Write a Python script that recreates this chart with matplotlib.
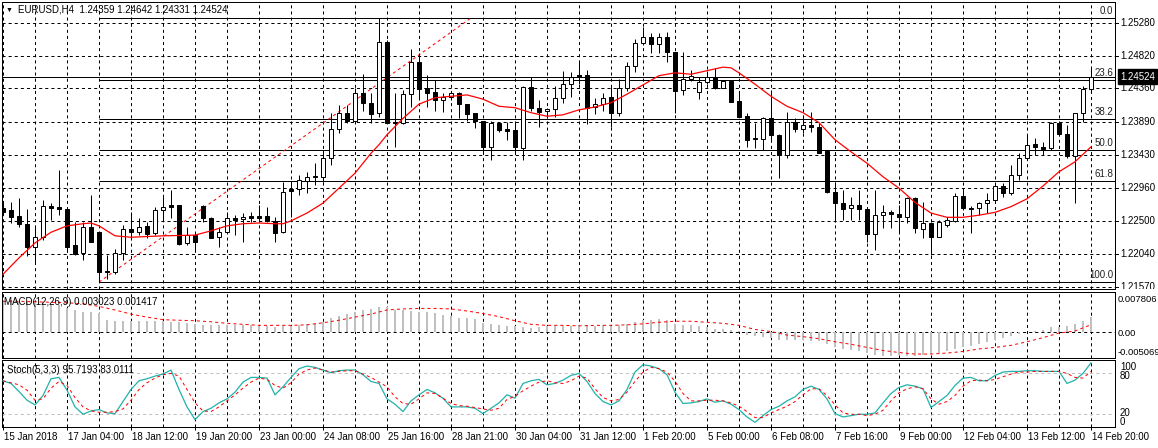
import matplotlib
matplotlib.use("Agg")
import matplotlib.pyplot as plt
import numpy as np

plt.rcParams['font.family'] = ['Liberation Sans', 'DejaVu Sans']
plt.rcParams['lines.scale_dashes'] = False

# ---- data (EURUSD H4) ----
opens = [1.2268, 1.2265, 1.2257, 1.2245, 1.2213, 1.2228, 1.2271, 1.2269, 1.2266, 1.2216,
         1.2205, 1.2241, 1.2235, 1.2179, 1.2178, 1.2205, 1.2238, 1.2235, 1.2243, 1.2233,
         1.2265, 1.2272, 1.2272, 1.2219, 1.2230, 1.2271, 1.2254, 1.2227, 1.2234, 1.2254,
         1.2252, 1.2257, 1.2257, 1.2257, 1.2250, 1.2234, 1.2295, 1.2295, 1.2306, 1.2313,
         1.2311, 1.2338, 1.2379, 1.2401, 1.2390, 1.2429, 1.2415, 1.2401, 1.2501, 1.2389,
         1.2387, 1.2428, 1.2473, 1.2436, 1.2431, 1.2420, 1.2424, 1.2429, 1.2414, 1.2401,
         1.2391, 1.2354, 1.2387, 1.2379, 1.2377, 1.2352, 1.2438, 1.2408, 1.2404, 1.2407,
         1.2422, 1.2442, 1.2455, 1.2455, 1.2410, 1.2414, 1.2424, 1.2401, 1.2436, 1.2467,
         1.2500, 1.2508, 1.2498, 1.2508, 1.2487, 1.2434, 1.2449, 1.2431, 1.2445, 1.2452,
         1.2436, 1.2446, 1.2418, 1.2397, 1.2366, 1.2365, 1.2394, 1.2370, 1.2342, 1.2389,
         1.2379, 1.2384, 1.2382, 1.2348, 1.2290, 1.2275, 1.2268, 1.2273, 1.2266, 1.2231,
         1.2258, 1.2262, 1.2259, 1.2255, 1.2282, 1.2238, 1.2247, 1.2228, 1.2244, 1.2250,
         1.2285, 1.2268, 1.2268, 1.2275, 1.2280, 1.2299, 1.2289, 1.2314, 1.2338, 1.2358,
         1.2354, 1.2352, 1.2387, 1.2372, 1.2341, 1.2401, 1.24359]
highs = [1.2276, 1.2276, 1.2282, 1.2266, 1.2241, 1.2279, 1.2275, 1.2321, 1.2266, 1.2248,
         1.2248, 1.2286, 1.2235, 1.2202, 1.2210, 1.2244, 1.2262, 1.2254, 1.2248, 1.2269,
         1.2283, 1.2293, 1.2272, 1.2241, 1.2233, 1.2272, 1.2255, 1.2241, 1.2262, 1.2258,
         1.2261, 1.2262, 1.2272, 1.2269, 1.2255, 1.2304, 1.2306, 1.2314, 1.2318, 1.2332,
         1.2349, 1.2401, 1.2413, 1.2413, 1.2436, 1.2457, 1.2429, 1.2535, 1.2504, 1.2429,
         1.2434, 1.2491, 1.2486, 1.2455, 1.2448, 1.2429, 1.2431, 1.2431, 1.2414, 1.2401,
         1.2391, 1.2391, 1.2389, 1.2389, 1.2389, 1.2439, 1.2452, 1.2420, 1.2408, 1.2439,
         1.2460, 1.2459, 1.2473, 1.2462, 1.2422, 1.2429, 1.2438, 1.2449, 1.2473, 1.2505,
         1.2522, 1.2514, 1.2514, 1.2515, 1.2487, 1.2487, 1.2462, 1.2452, 1.2460, 1.2465,
         1.2448, 1.2448, 1.2431, 1.2401, 1.2387, 1.2396, 1.2434, 1.2372, 1.2403, 1.2394,
         1.2398, 1.2403, 1.2387, 1.2348, 1.2304, 1.2293, 1.2283, 1.2293, 1.2269, 1.2293,
         1.2272, 1.2265, 1.2272, 1.2283, 1.2283, 1.2276, 1.2248, 1.2251, 1.2255, 1.2289,
         1.2296, 1.2271, 1.2276, 1.2289, 1.2303, 1.2303, 1.2328, 1.2346, 1.2370, 1.2366,
         1.2361, 1.2389, 1.2389, 1.2384, 1.2401, 1.2439, 1.24642]
lows = [1.2258, 1.2247, 1.2241, 1.2200, 1.2192, 1.2223, 1.2251, 1.2258, 1.2206, 1.2202,
        1.2195, 1.2221, 1.2164, 1.2169, 1.2175, 1.2195, 1.2227, 1.2230, 1.2226, 1.2230,
        1.2250, 1.2254, 1.2216, 1.2216, 1.2209, 1.2248, 1.2226, 1.2213, 1.2233, 1.2230,
        1.2221, 1.2248, 1.2248, 1.2248, 1.2220, 1.2233, 1.2255, 1.2286, 1.2289, 1.2300,
        1.2304, 1.2328, 1.2373, 1.2387, 1.2387, 1.2405, 1.2387, 1.2396, 1.2387, 1.2354,
        1.2386, 1.2410, 1.2420, 1.2410, 1.2405, 1.2403, 1.2420, 1.2394, 1.2391, 1.2380,
        1.2345, 1.2335, 1.2375, 1.2363, 1.2346, 1.2335, 1.2405, 1.2382, 1.2394, 1.2396,
        1.2415, 1.2424, 1.2443, 1.2386, 1.2400, 1.2404, 1.2382, 1.2398, 1.2432, 1.2459,
        1.2497, 1.2486, 1.2486, 1.2473, 1.2401, 1.2427, 1.2446, 1.2421, 1.2443, 1.2435,
        1.2436, 1.2417, 1.2396, 1.2354, 1.2352, 1.2349, 1.2363, 1.2310, 1.2339, 1.2375,
        1.2373, 1.2375, 1.2345, 1.2289, 1.2248, 1.2251, 1.2251, 1.2251, 1.2221, 1.2209,
        1.2240, 1.2240, 1.2234, 1.2247, 1.2233, 1.2226, 1.2202, 1.2227, 1.2241, 1.2248,
        1.2265, 1.2233, 1.2258, 1.2261, 1.2275, 1.2283, 1.2286, 1.2307, 1.2335, 1.2342,
        1.2342, 1.2349, 1.2370, 1.2339, 1.2275, 1.2389, 1.24331]
closes = [1.2262, 1.2255, 1.2245, 1.2213, 1.2228, 1.2271, 1.2268, 1.2266, 1.2214, 1.2203,
          1.2241, 1.2221, 1.2178, 1.2178, 1.2205, 1.2238, 1.2235, 1.2241, 1.2231, 1.2265,
          1.2269, 1.2269, 1.2217, 1.2230, 1.2220, 1.2254, 1.2226, 1.2234, 1.2254, 1.2251,
          1.2255, 1.2254, 1.2254, 1.2250, 1.2233, 1.2290, 1.2292, 1.2307, 1.2311, 1.2311,
          1.2338, 1.2379, 1.2401, 1.2390, 1.2429, 1.2415, 1.2400, 1.2501, 1.2387, 1.2387,
          1.2428, 1.2473, 1.2435, 1.2429, 1.2420, 1.2424, 1.2429, 1.2414, 1.2400, 1.2391,
          1.2354, 1.2387, 1.2377, 1.2376, 1.2354, 1.2438, 1.2408, 1.2403, 1.2407, 1.2422,
          1.2442, 1.2452, 1.2452, 1.2408, 1.2414, 1.2422, 1.2401, 1.2436, 1.2467, 1.2500,
          1.2508, 1.2498, 1.2508, 1.2487, 1.2432, 1.2449, 1.2453, 1.2445, 1.2452, 1.2436,
          1.2446, 1.2417, 1.2396, 1.2363, 1.2365, 1.2394, 1.2370, 1.2342, 1.2389, 1.2379,
          1.2384, 1.2382, 1.2346, 1.2290, 1.2275, 1.2266, 1.2273, 1.2266, 1.2231, 1.2258,
          1.2262, 1.2259, 1.2255, 1.2282, 1.2240, 1.2247, 1.2228, 1.2248, 1.2251, 1.2285,
          1.2268, 1.2266, 1.2275, 1.2280, 1.2299, 1.2289, 1.2314, 1.2338, 1.2356, 1.2354,
          1.2351, 1.2387, 1.2372, 1.2341, 1.2401, 1.2435, 1.24524]

ma_bars = [0, 2, 4, 6, 8, 10, 11, 12, 14, 16, 20, 24, 26, 28, 30, 32, 34, 35, 36, 38,
           40, 42, 44, 46, 47, 48, 50, 52, 54, 56, 58, 60, 62, 64, 66, 68, 70, 72, 74, 76,
           78, 80, 82, 84, 86, 88, 90, 91, 92, 94, 96, 98, 100, 102, 104, 106, 108, 110, 112, 114,
           116, 118, 120, 122, 124, 126, 128, 130, 132, 134, 136]
ma_vals = [1.2175, 1.2198, 1.2219, 1.2234, 1.2243, 1.2246, 1.2247, 1.2243, 1.2229, 1.2227,
           1.2229, 1.2230, 1.2236, 1.2243, 1.2246, 1.2247, 1.2246, 1.2246, 1.2250, 1.2261,
           1.2275, 1.2296, 1.2317, 1.2345, 1.2357, 1.2371, 1.2394, 1.2414, 1.2423, 1.2425,
           1.2427, 1.2421, 1.2411, 1.2409, 1.2402, 1.2397, 1.2399, 1.2406, 1.2410, 1.2416,
           1.2428, 1.2441, 1.2454, 1.2458, 1.2456, 1.2461, 1.2466, 1.2465, 1.2458, 1.2442,
           1.2425, 1.2411, 1.2402, 1.2388, 1.2364, 1.2347, 1.2331, 1.2312, 1.2296, 1.2276,
           1.2261, 1.2255, 1.2255, 1.2258, 1.2262, 1.2270, 1.2281, 1.2299, 1.2319, 1.2333,
           1.2354]

macd_hist = [0.0063, 0.0062, 0.0061, 0.0059, 0.0058, 0.0056, 0.0055, 0.0053,
             0.00464, 0.00432, 0.00400, 0.00400, 0.00367,
             0.00238, 0.00219, 0.00219, 0.00219, 0.00219, 0.00219, 0.00219,
             0.00206, 0.00193, 0.00187, 0.00174, 0.00154,
             0.00141, 0.00128, 0.00128, 0.00128, 0.00128, 0.00128, 0.00128,
             0.00109, 0.00109, 0.00096, 0.00109,
             0.00122, 0.00141, 0.00154, 0.00174, 0.00193,
             0.00270, 0.00303, 0.00354, 0.00400, 0.00432, 0.00451, 0.00497, 0.00497,
             0.00432, 0.00432, 0.00413, 0.00400, 0.00387, 0.00367, 0.00335, 0.00303, 0.00270, 0.00270, 0.00251,
             0.00174, 0.00154, 0.00141, 0.00109, 0.00109, 0.00090, 0.00077, 0.00090, 0.00109, 0.00109, 0.00122, 0.00122,
             0.00128, 0.00128, 0.00122, 0.00128, 0.00109, 0.00141, 0.00154, 0.00193, 0.00225, 0.00238,
             0.00245, 0.00232, 0.00154, 0.00128, 0.00128, 0.00109, 0.00090, 0.00064, 0.00058, 0.00045, 0.00012,
             -0.00052, -0.00085, -0.00098, -0.00117, -0.00149, -0.00149, -0.00156, -0.00156, -0.00169, -0.00181,
             -0.00233, -0.00298, -0.00324, -0.00350, -0.00375, -0.00414, -0.00453, -0.00470, -0.00460, -0.00450,
             -0.00465, -0.00460, -0.00440, -0.00427, -0.00408,
             -0.00362, -0.00324, -0.00298, -0.00278, -0.00233, -0.00194, -0.00149, -0.00117, -0.00071, -0.00039,
             -0.00007, 0.00025, 0.00045, 0.00090, 0.00103, 0.00109, 0.00154, 0.00206, 0.003023]

sig_bars = list(range(0, 137, 2))
macd_sig = [0.0060, 0.0060, 0.0059, 0.0058, 0.0057, 0.0055, 0.0050, 0.0043, 0.0035, 0.0029,
            0.0024, 0.0023, 0.0022, 0.0020, 0.0017, 0.0015, 0.0013, 0.0013, 0.0013, 0.0014,
            0.0018, 0.0023, 0.0029, 0.0035, 0.0043, 0.0045, 0.0046, 0.0046, 0.0045, 0.0041,
            0.0036, 0.0030, 0.0022, 0.0015, 0.0013, 0.0013, 0.0012, 0.0013, 0.0013, 0.0014,
            0.0016, 0.0019, 0.0021, 0.0021, 0.0019, 0.0017, 0.0013, 0.0005, 0.0001, -0.0006,
            -0.0009, -0.0013, -0.0019, -0.0024, -0.0030, -0.0036, -0.0040, -0.0043, -0.0043, -0.0041,
            -0.0038, -0.0033, -0.0030, -0.0026, -0.0019, -0.0011, -0.0002, 0.0002, 0.001417]

stoch_main = [69, 65, 53, 40, 33, 47, 72, 74, 55, 30,
              19, 24, 26, 21, 20, 38, 56, 69, 72, 76,
              79, 85, 56, 30, 11, 23, 28, 36, 42, 52,
              67, 74, 74, 73, 48, 60, 74, 87, 91, 89,
              85, 81, 84, 85, 85, 78, 68, 65, 42, 34,
              23, 39, 48, 56, 51, 43, 30, 30, 30, 28,
              20, 28, 36, 48, 43, 65, 69, 71, 63, 65,
              70, 77, 80, 68, 50, 38, 33, 39, 56, 82,
              93, 91, 87, 78, 52, 35, 36, 38, 42, 37,
              39, 34, 26, 15, 7, 17, 26, 31, 39, 45,
              56, 61, 56, 42, 20, 15, 17, 19, 19, 21,
              36, 50, 59, 63, 61, 57, 29, 38, 47, 62,
              73, 74, 69, 69, 77, 82, 83, 83, 84, 84,
              83, 83, 83, 65, 70, 80, 95.72]
stoch_sig = [69, 66, 63, 55, 40, 42, 58, 68, 62, 44,
             30, 24, 22, 22, 23, 27, 40, 56, 66, 73,
             78, 80, 76, 56, 36, 24, 23, 30, 39, 48,
             58, 67, 73, 71, 62, 58, 66, 79, 85, 88,
             85, 82, 83, 84, 84, 79, 74, 67, 60, 45,
             35, 34, 42, 51, 50, 43, 35, 32, 31, 29,
             27, 25, 28, 41, 46, 54, 61, 67, 69, 66,
             65, 69, 76, 73, 57, 44, 39, 41, 52, 68,
             82, 89, 87, 82, 68, 50, 39, 39, 40, 40,
             39, 36, 31, 23, 14, 14, 21, 26, 31, 38,
             48, 57, 57, 47, 33, 21, 19, 19, 17, 19,
             25, 39, 51, 57, 60, 57, 42, 34, 38, 47,
             61, 69, 70, 69, 71, 75, 79, 82, 82, 83,
             83, 83, 83, 80, 74, 73, 83.01]

price_levels = [1.25280, 1.24820, 1.24360, 1.23890, 1.23430, 1.22960, 1.22500, 1.22040, 1.21570]
fib_high, fib_low = 1.2535, 1.2164
fib_ratios = [0.0, 23.6, 38.2, 50.0, 61.8, 100.0]
bid = 1.24524

date_bars = list(range(0, 137, 8))
date_labels = ["15 Jan 2018", "17 Jan 04:00", "18 Jan 12:00", "19 Jan 20:00", "23 Jan 00:00",
               "24 Jan 08:00", "25 Jan 16:00", "28 Jan 21:00", "30 Jan 04:00", "31 Jan 12:00",
               "1 Feb 20:00", "5 Feb 00:00", "6 Feb 08:00", "7 Feb 16:00", "9 Feb 00:00",
               "12 Feb 04:00", "13 Feb 12:00", "14 Feb 20:00"]

# ---- layout in pixels ----
W, H = 1158, 448
fig = plt.figure(figsize=(W / 100, H / 100), dpi=100, facecolor='white')


def px_axes(x0, y0, x1, y1):
    return fig.add_axes([x0 / W, 1 - y1 / H, (x1 - x0) / W, (y1 - y0) / H])


LW = 0.72
DASH = (0, (2.2, 2.2))
FS = 7
XMIN, XMAX = -0.125, 139.0

ax = px_axes(2, 2, 1115, 289)
ax_m = px_axes(2, 292, 1115, 358)
ax_s = px_axes(2, 360, 1115, 427)

for a in (ax, ax_m, ax_s):
    a.set_xlim(XMIN, XMAX)
    a.set_xticks([])
    a.set_yticks([])
    for sp in a.spines.values():
        sp.set_linewidth(LW)
        sp.set_color('black')
    for b in range(0, 137, 4):
        a.axvline(b, color='black', lw=LW, ls=DASH, zorder=0)

# main panel
ax.set_ylim(1.21543, 1.25575)
for p in price_levels:
    ax.axhline(p, color='black', lw=LW, ls=DASH, zorder=0)

x = np.arange(len(opens))
o = np.array(opens)
c = np.array(closes)
ax.vlines(x, lows, highs, color='black', lw=LW, zorder=3)
body_low = np.minimum(o, c)
body_h = np.maximum(np.abs(c - o), 0.00003)
face = ['white' if cc >= oo else 'black' for oo, cc in zip(o, c)]
ax.bar(x, body_h, bottom=body_low, width=0.58, color=face, edgecolor='black',
       linewidth=LW, zorder=4)

ax.plot(ma_bars, ma_vals, color='red', lw=0.9, zorder=5)

# fibonacci retracement
for r in fib_ratios:
    lvl = fib_high - r / 100 * (fib_high - fib_low)
    ax.hlines(lvl, 12, XMAX, color='black', lw=LW, zorder=2)
    ax.annotate(f"{r:.1f}", xy=(138.8, lvl), xytext=(0, 1.5), textcoords='offset points',
                ha='right', va='bottom', fontsize=FS, color='#202020')
ax.plot([12, 58.5], [fib_low, fib_high], color='red', lw=LW, ls=DASH, zorder=2)
ax.axhline(bid, color='black', lw=LW, zorder=2)

# price scale
ax_r = px_axes(1115, 2, 1158, 289)
ax_r.set_xlim(0, 43)
ax_r.set_ylim(ax.get_ylim())
ax_r.axis('off')
for p in price_levels:
    ax_r.plot([0, 3], [p, p], color='black', lw=LW, clip_on=True)
    ax_r.text(5, p, f"{p:.5f}", ha='left', va='center', fontsize=FS, clip_on=True)
ax_r.text(5, bid, f"{bid:.5f}", ha='left', va='center', fontsize=FS, color='white',
          bbox=dict(facecolor='black', edgecolor='black', boxstyle='square,pad=0.25'))

fig.text(9.5 / W, 1 - 10 / H, '\u25bc', fontsize=5, ha='center', va='center')
fig.text(18 / W, 1 - 10 / H, "EURUSD,H4  1.24359 1.24642 1.24331 1.24524",
         fontsize=FS, ha='left', va='center')

# MACD panel
ax_m.set_ylim(-0.005069, 0.007806)
ax_m.axhline(0, color='black', lw=LW, ls=DASH, zorder=0)
ax_m.bar(x, macd_hist, width=0.2, color='#C0C0C0', linewidth=0, zorder=2)
ax_m.plot(sig_bars, macd_sig, color='red', lw=LW, ls=DASH, zorder=3)
fig.text(4 / W, 1 - 302 / H, "MACD(12,26,9) 0.003023 0.001417", fontsize=FS,
         ha='left', va='center')
fig.text(1118 / W, 1 - 299 / H, "0.007806", fontsize=6.8, ha='left', va='center')
fig.text(1118 / W, 1 - 333 / H, "0.00", fontsize=6.8, ha='left', va='center')
fig.text(1118 / W, 1 - 352 / H, "-0.005069", fontsize=6.8, ha='left', va='center')

# Stochastic panel
ax_s.set_ylim(0, 100)
for lv in (20, 80):
    ax_s.axhline(lv, color='#C0C0C0', lw=LW, ls=DASH, zorder=1)
ax_s.plot(x, stoch_main, color='#20B2AA', lw=0.9, zorder=3)
ax_s.plot(x, stoch_sig, color='red', lw=LW, ls=DASH, zorder=4)
fig.text(7 / W, 1 - 370 / H, "Stoch(5,3,3) 95.7193 83.0111", fontsize=FS,
         ha='left', va='center')
for txt, py in (("100", 367), ("80", 375.5), ("20", 413), ("0", 422)):
    fig.text(1120 / W, 1 - py / H, txt, fontsize=FS, ha='left', va='center')

ax_s.set_xticks(date_bars)
ax_s.tick_params(axis='x', direction='out', length=2.5, width=LW, labelbottom=False)
for b, lab in zip(date_bars, date_labels):
    fig.text((3 + 8 * b + 1) / W, 1 - 437 / H, lab, fontsize=FS, ha='left', va='center')

fig.savefig("out.png", dpi=100, facecolor='white')
